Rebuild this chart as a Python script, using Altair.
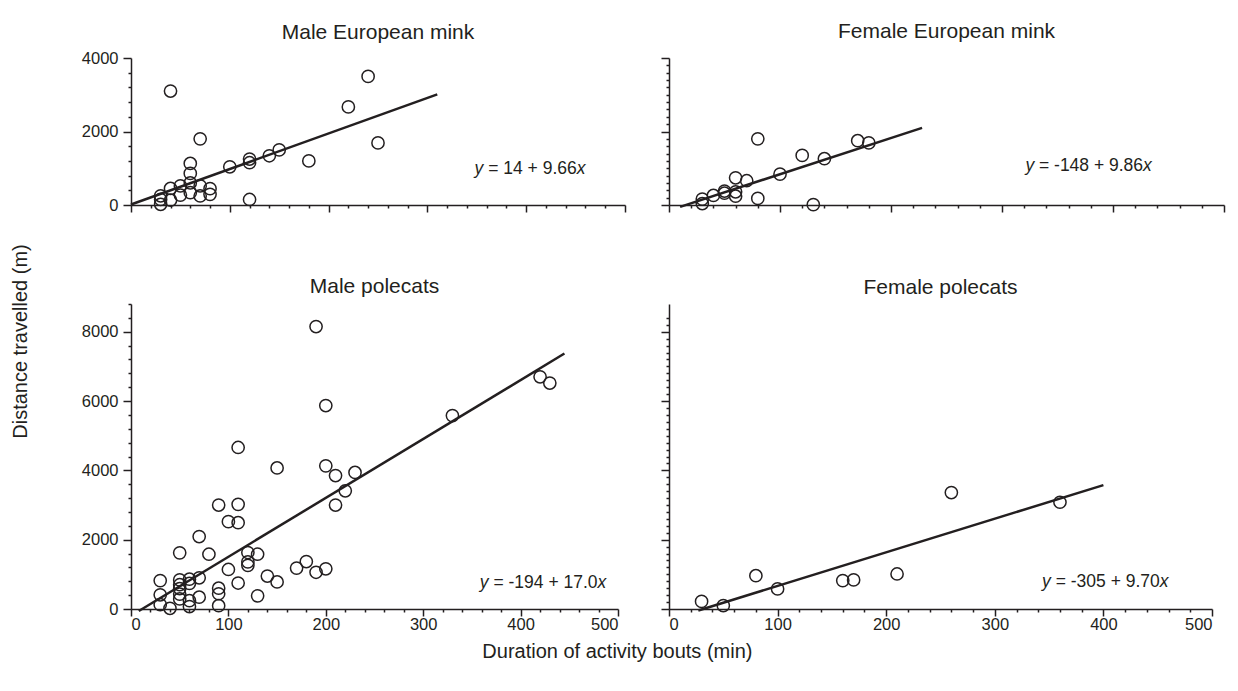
import altair as alt
import pandas as pd

FONT = "Liberation Sans"
INK = "#231f20"

# ---------------- data ----------------
# Male European mink
mm_x = [30, 30, 30, 40, 40, 40, 50, 50, 60, 60, 60, 60, 70, 70, 70, 80, 80,
        100, 120, 120, 120, 140, 150, 180, 220, 240, 250]
mm_y = [250, 150, 20, 3100, 450, 130, 520, 270, 1130, 860, 600, 335, 1800, 520, 245, 445, 290,
        1040, 1250, 1150, 150, 1340, 1500, 1200, 2670, 3500, 1690]
# Female European mink
fm_x = [30, 30, 40, 50, 50, 60, 60, 60, 70, 80, 80, 100, 120, 130, 140, 170, 180]
fm_y = [160, 40, 260, 380, 320, 740, 360, 240, 660, 1800, 180, 840, 1350, 10, 1260, 1750, 1690]
# Male polecats
mp_x = [30, 30, 30, 40,
        50, 50, 50, 50, 50, 50,
        60, 60, 60, 60,
        70, 70, 70,
        80,
        90, 90, 90, 90,
        100, 100,
        110, 110, 110, 110,
        120, 120, 120,
        130, 130,
        140,
        150, 150,
        170, 180, 190, 190, 200, 200, 200,
        210, 210, 220, 230,
        330, 420, 430]
mp_y = [820, 410, 125, 20,
        1620, 840, 700, 590, 430, 290,
        860, 740, 240, 70,
        2090, 900, 340,
        1580,
        3000, 600, 440, 95,
        2520, 1140,
        4660, 3020, 2490, 750,
        1630, 1360, 1260,
        1580, 380,
        950,
        4070, 780,
        1180, 1370, 1060, 8150, 5870, 4130, 1160,
        3850, 3000, 3410, 3940,
        5580, 6700, 6520]
# Female polecats
fp_x = [30, 50, 80, 100, 160, 170, 210, 260, 360]
fp_y = [220, 100, 960, 580, 820, 840, 1010, 3360, 3080]

titles = ["Male European mink", "Female European mink", "Male polecats", "Female polecats"]
intercepts = [14, -148, -194, -305]
slopes = [9.66, 9.86, 17.0, 9.70]
line_from = [0, 10, 8, 27]
line_to = [310, 228, 445, 400]
eq_mid = ["= 14 + 9.66", "= -148 + 9.86", "= -194 + 17.0", "= -305 + 9.70"]

# Arial / Liberation Sans advance widths (per 1000 em)
ADV = {str(d): 556 for d in range(10)}
ADV.update({" ": 278, "=": 584, "+": 584, "-": 333, ".": 278, "x": 500, "y": 500})


def text_w(s, fs):
    return sum(ADV.get(c, 556) for c in s) * fs / 1000.0


EQ_FS = 17.5


def major_x_axis(show_labels):
    return alt.Axis(values=[0, 100, 200, 300, 400, 500], labels=show_labels, format="d",
                    title=None, orient="bottom", tickSize=7, labelPadding=0,
                    labelOverlap=False, domain=True)


def minor_x_axis():
    return alt.Axis(values=[v for v in range(0, 501, 20) if v % 100], labels=False,
                    title=None, orient="bottom", tickSize=3, domain=False)


def major_y_axis(show_labels, ymax, title=None):
    kw = dict(title=None)
    if title is not None:
        kw = dict(title=title, titleX=-111, titleY=283, titleBaseline="middle",
                  titleFontSize=20, titleFont=FONT, titleFontWeight="normal",
                  titleColor=INK, titleAngle=270)
    return alt.Axis(values=list(range(0, ymax + 1, 2000)), labels=show_labels, format="d",
                    orient="left", tickSize=8, labelPadding=5, labelOverlap=False,
                    domain=True, **kw)


def minor_y_axis(ymax, minor):
    return alt.Axis(values=[v for v in range(0, ymax + 1, minor) if v % 2000], labels=False,
                    title=None, orient="left", tickSize=3, domain=False)


def panel(i, xs, ys, width, height, ymax, minor, minor_top, show_x, show_y, eq_pos,
          title_offset, ytitle=None):
    xsc = alt.Scale(domain=[0, 500], nice=False, zero=False)
    ysc = alt.Scale(domain=[0, ymax], nice=False, zero=False)
    pts = pd.DataFrame({"x": xs, "y": ys})
    lx = [line_from[i], line_to[i]]
    line_df = pd.DataFrame({"x": lx, "y": [intercepts[i] + slopes[i] * v for v in lx]})
    eq_df = pd.DataFrame({"x": [eq_pos[0]], "y": [eq_pos[1]]})

    minor_layer = alt.Chart(pts).mark_point(opacity=0).encode(
        x=alt.X("x:Q", scale=xsc, axis=minor_x_axis()),
        y=alt.Y("y:Q", scale=ysc, axis=minor_y_axis(minor_top, minor)),
    )

    points = alt.Chart(pts).mark_point(
        shape="circle", filled=False, size=150, strokeWidth=1.5, color=INK, opacity=1
    ).encode(
        x=alt.X("x:Q", scale=xsc, axis=major_x_axis(show_x)),
        y=alt.Y("y:Q", scale=ysc, axis=major_y_axis(show_y, ymax, ytitle)),
    )

    nx = alt.X("x:Q", scale=xsc, axis=None)
    ny = alt.Y("y:Q", scale=ysc, axis=None)

    line = alt.Chart(line_df).mark_line(color=INK, strokeWidth=2.5).encode(x=nx, y=ny)

    wx = text_w("x", EQ_FS)
    wmid = text_w(eq_mid[i] + " ", EQ_FS)
    common = dict(font=FONT, fontSize=EQ_FS, color=INK, align="right", baseline="middle")
    t_x = alt.Chart(eq_df).mark_text(text="x", fontStyle="italic", dx=0, **common).encode(x=nx, y=ny)
    t_mid = alt.Chart(eq_df).mark_text(text=eq_mid[i], dx=-wx, **common).encode(x=nx, y=ny)
    t_y = alt.Chart(eq_df).mark_text(text="y", fontStyle="italic", dx=-(wx + wmid),
                                     **common).encode(x=nx, y=ny)

    return alt.layer(minor_layer, points, line, t_x, t_mid, t_y).resolve_axis(
        x="independent", y="independent"
    ).properties(
        width=width, height=height,
        title=alt.TitleParams(titles[i], fontSize=21, font=FONT, fontWeight="normal",
                              color=INK, offset=title_offset, anchor="middle"),
    )


tl = panel(0, mm_x, mm_y, 494, 147, 4000, 400, 4000, False, True, (460, 980), 7,
           ytitle="Distance travelled (m)")
tr = panel(1, fm_x, fm_y, 555, 147, 4000, 200, 4000, False, False, (435, 1050), 15)
bl = panel(2, mp_x, mp_y, 487, 305, 8800, 400, 8800, True, True, (488, 760), 6)
br = panel(3, fp_x, fp_y, 543, 305, 8800, 200, 8400, True, False, (460, 786), 6)

chart = alt.concat(tl, tr, bl, br, columns=2, spacing={"row": 99, "column": 44}).properties(
    align="each",
    bounds="flush",
    padding={"left": 2, "top": 13, "right": 5, "bottom": 5},
    title=alt.TitleParams("Duration of activity bouts (min)", orient="bottom", fontSize=20,
                          font=FONT, fontWeight="normal", color=INK, offset=9, anchor="middle"),
).configure_view(stroke=None).configure_axis(
    grid=False,
    domainColor=INK, domainWidth=1.5,
    tickColor=INK, tickWidth=1.5,
    labelFont=FONT, labelFontSize=16.5, labelColor=INK,
)

chart.save("out.html", embed_options={"renderer": "svg", "actions": False})
